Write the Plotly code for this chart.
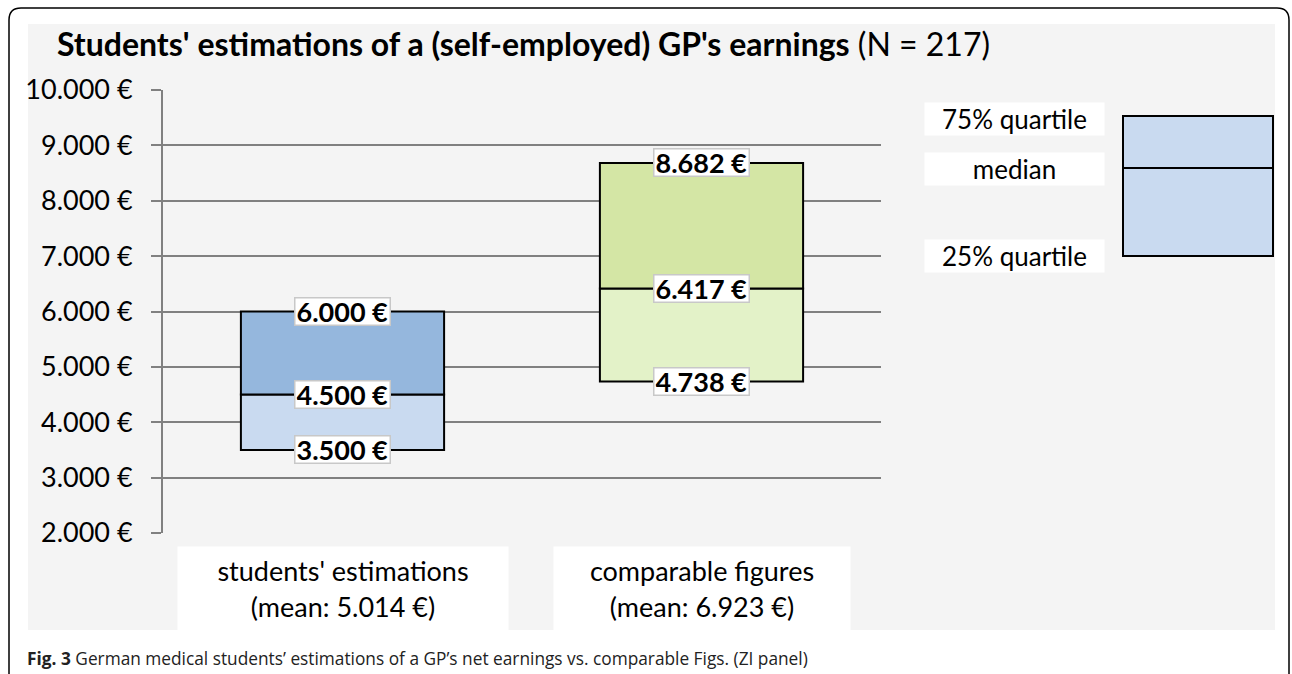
import plotly.graph_objects as go

# ---- data ----
groups = ["students' estimations", "comparable figures"]
group_means = [5014, 6923]
q1 = [3500, 4738]
median = [4500, 6417]
q3 = [6000, 8682]

y_ticks = [2000, 3000, 4000, 5000, 6000, 7000, 8000, 9000, 10000]
y_ticktext = ["2.000 €", "3.000 €", "4.000 €", "5.000 €", "6.000 €",
              "7.000 €", "8.000 €", "9.000 €", "10.000 €"]

legend_labels = ["75% quartile", "median", "25% quartile"]

title_bold = "Students' estimations of a (self-employed) GP's earnings"
title_rest = "(N = 217)"
caption_bold = "Fig. 3"
caption_rest = "German medical students’ estimations of a GP’s net earnings vs. comparable Figs. (ZI panel)"

# ---- layout constants (pixels) ----
W, H = 1292, 674
L, R, T, B = 163, 881, 90, 533   # plot area edges
FONT = "Lato"
GRID = "#808080"
lower_colors = ["#c9daf0", "#e3f2c8"]
upper_colors = ["#95b7dd", "#d4e6a5"]


def px(x):
    return (x - L) / (R - L)


def py(y):
    return (B - y) / (B - T)


def euro(v):
    return f"{v:,.0f}".replace(",", ".") + " €"


fig = go.Figure()

fig.add_trace(go.Bar(
    x=groups, base=q1, y=[m - a for m, a in zip(median, q1)],
    width=0.566, marker=dict(color=lower_colors, line=dict(color="black", width=2)),
    hoverinfo="skip", showlegend=False))
fig.add_trace(go.Bar(
    x=groups, base=median, y=[b - m for b, m in zip(q3, median)],
    width=0.566, marker=dict(color=upper_colors, line=dict(color="black", width=2)),
    hoverinfo="skip", showlegend=False))

annotations = []

# value labels on the box edges
for g, vals in zip(groups, zip(q1, median, q3)):
    for v in vals:
        annotations.append(dict(
            x=g, y=v, xref="x", yref="y", text=f"<b>{euro(v)}</b>", showarrow=False,
            font=dict(family=FONT, size=27, color="black"),
            bgcolor="white", bordercolor="#c8c8c8", borderwidth=1.5, borderpad=1,
            height=24, xanchor="center", yanchor="middle"))

# category labels in white boxes under the axis
for g, mean, w in zip(groups, group_means, [322, 288]):
    annotations.append(dict(
        x=g, y=py(588.5), xref="x", yref="paper",
        text=f"{g}<br>(mean: {euro(mean)})", showarrow=False,
        font=dict(family=FONT, size=27, color="black"),
        bgcolor="white", width=w, height=75, borderpad=4,
        xanchor="center", yanchor="middle"))

# legend labels
for lab, yc in zip(legend_labels, [119, 168.5, 256]):
    annotations.append(dict(
        x=px(1014.5), y=py(yc), xref="paper", yref="paper", text=lab, showarrow=False,
        font=dict(family=FONT, size=26, color="black"),
        bgcolor="white", width=177, height=30, borderpad=1,
        xanchor="center", yanchor="middle"))

# title and caption
annotations.append(dict(
    x=px(55), y=py(43), xref="paper", yref="paper", showarrow=False,
    text=f"<b>{title_bold}</b> {title_rest}", xanchor="left", yanchor="middle",
    font=dict(family=FONT, size=32, color="black")))
annotations.append(dict(
    x=px(25), y=py(658), xref="paper", yref="paper", showarrow=False,
    text=f"<b>{caption_bold}</b> {caption_rest}", xanchor="left", yanchor="middle",
    font=dict(family="Open Sans", size=17.3, color="#222222")))

shapes = [
    # grey panel
    dict(type="rect", xref="paper", yref="paper", layer="below",
         x0=px(28), x1=px(1275), y0=py(630), y1=py(24),
         fillcolor="#f4f4f4", line=dict(width=0)),
    # legend box
    dict(type="rect", xref="paper", yref="paper",
         x0=px(1123), x1=px(1273), y0=py(256), y1=py(116),
         fillcolor="#c9daf0", line=dict(color="black", width=2)),
    dict(type="line", xref="paper", yref="paper",
         x0=px(1123), x1=px(1273), y0=py(168), y1=py(168),
         line=dict(color="black", width=2)),
]

# rounded outer frame
r = 12
fl, fr, ft, fb = 9, 1289, 8, 700
path = (f"M {px(fl)},{py(fb)} L {px(fl)},{py(ft + r)} "
        f"Q {px(fl)},{py(ft)} {px(fl + r)},{py(ft)} "
        f"L {px(fr - r)},{py(ft)} Q {px(fr)},{py(ft)} {px(fr)},{py(ft + r)} "
        f"L {px(fr)},{py(fb)}")
shapes.append(dict(type="path", xref="paper", yref="paper", path=path,
                   line=dict(color="black", width=1.5)))

fig.update_layout(
    width=W, height=H,
    margin=dict(l=L, r=W - R, t=T, b=H - B),
    paper_bgcolor="white", plot_bgcolor="rgba(0,0,0,0)",
    barmode="overlay", showlegend=False,
    annotations=annotations, shapes=shapes,
    font=dict(family=FONT, color="black"),
)
fig.update_xaxes(showticklabels=False, showgrid=False, zeroline=False,
                 showline=False, range=[-0.5, 1.5])
fig.update_yaxes(range=[2000, 10000], tickvals=y_ticks, ticktext=y_ticktext,
                 showgrid=True, gridcolor=GRID, gridwidth=2, zeroline=False,
                 showline=True, linecolor=GRID, linewidth=2,
                 ticks="outside", ticklen=10, tickcolor=GRID, tickwidth=2,
                 ticklabelstandoff=13,
                 tickfont=dict(family=FONT, size=27, color="black"))

# drop the default page margin so the 1292x674 figure sits flush in the window
fig.write_html("out.html", config={"displayModeBar": False},
               post_script="document.body.style.margin='0';document.body.style.overflow='hidden';")
